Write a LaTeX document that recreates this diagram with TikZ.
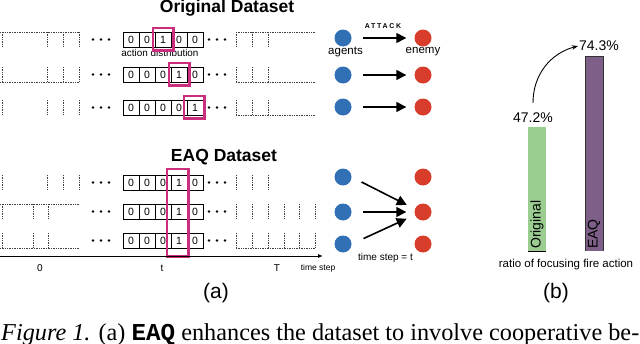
\documentclass[tikz,border=0pt]{standalone}
\usepackage{fontspec}
\setmainfont{Liberation Sans}
\newfontfamily\didafont{Liberation Serif}
\newfontfamily\codfont{Liberation Mono}
\usetikzlibrary{arrows.meta,positioning}

\definecolor{evidcol}{RGB}{205,45,125}
\definecolor{blu}{RGB}{50,112,182}
\definecolor{rosso}{RGB}{216,60,42}
\definecolor{verde}{RGB}{155,205,145}
\definecolor{viola}{RGB}{125,95,135}

\tikzset{
  cella/.style={draw, line width=0.8pt, minimum width=16pt, minimum height=15pt,
    inner sep=0pt, font=\fontsize{10.5}{12}\selectfont},
  evid/.style={draw=evidcol, line width=2.2pt},
  tratt/.style={densely dotted, line width=0.7pt, black!75},
  agente/.style={circle, fill=blu, minimum size=17pt, inner sep=0pt},
  nemico/.style={circle, fill=rosso, minimum size=17pt, inner sep=0pt},
  attacco/.style={line width=1.6pt, -{Triangle[length=10pt,width=10pt]}},
  titolo/.style={font=\fontsize{17.5}{20}\selectfont\bfseries},
  etich/.style={font=\fontsize{10}{12}\selectfont, inner sep=1pt},
}

\begin{document}
\begin{tikzpicture}[x=1pt,y=-1pt]
        \useasboundingbox (0,0) rectangle (640,343);

        % Titoli
        \node[titolo] (tOrig) at (227,8) {Original Dataset};
        \node[titolo] (tEAQ) at (224,157) {EAQ Dataset};

        % Dataset originale
        \foreach \d [count=\i] in {0,0,1,0,0}
            \node[cella] (o1-\i) at (115+16*\i,39.5) {\d};
        \foreach \d [count=\i] in {0,0,0,1,0}
            \node[cella] (o2-\i) at (115+16*\i,74.5) {\d};
        \foreach \d [count=\i] in {0,0,0,0,1}
            \node[cella] (o3-\i) at (115+16*\i,107.5) {\d};
        \node[etich, font=\fontsize{9.9}{12}\selectfont] (azdist) at (160,53) {action distribution};

        % Dataset EAQ
        \foreach \r/\y in {1/182.5,2/211.5,3/240.5}
            \foreach \d [count=\i] in {0,0,0,1,0}
                \node[cella] (q\r-\i) at (115+16*\i,\y) {\d};

        % Evidenziazioni
        \draw[evid] ([shift={(-2pt,4pt)}]o1-3.north west) rectangle ([shift={(2pt,-3pt)}]o1-3.south east);
        \draw[evid] ([shift={(-2pt,4pt)}]o2-4.north west) rectangle ([shift={(2pt,-3pt)}]o2-4.south east);
        \draw[evid] ([shift={(-3pt,4pt)}]o3-5.north west) rectangle ([shift={(1pt,-3pt)}]o3-5.south east);
        \draw[evid] ([shift={(-4pt,6pt)}]q1-4.north west) rectangle ([shift={(1pt,-8pt)}]q3-4.south east);

        % Blocchi tratteggiati a sinistra
        \foreach \t/\b in {32/47,67/82,100/115,175/190}
            \foreach \x in {2,47,63,79} \draw[tratt] (\x,\t) -- (\x,\b);
        \foreach \t/\b in {204/219,233/248}
            \foreach \x in {2,33,48} \draw[tratt] (\x,\t) -- (\x,\b);
        \draw[tratt] (0,32) -- (79,32);
        \draw[tratt] (0,82) -- (79,82);
        \draw[tratt] (0,204) -- (79,204);
        \draw[tratt] (0,248) -- (79,248);

        % Blocchi tratteggiati a destra
        \foreach \t/\b in {32/47,67/82,100/115,175/190}
            \foreach \x in {236,252,268} \draw[tratt] (\x,\t) -- (\x,\b);
        \foreach \t/\b in {204/219,233/248}
            \foreach \x in {236,252,268,284,299,315} \draw[tratt] (\x,\t) -- (\x,\b);
        \draw[tratt] (236,32) -- (315,32);
        \draw[tratt] (236,82) -- (315,82);
        \draw[tratt] (236,115) -- (315,115);
        \draw[tratt] (236,248) -- (315,248);

        % Puntini
        \foreach \y in {39.5,74.5,107.5,182.5,211.5,240.5}
            \foreach \x in {93,101,109,209,217,225}
                \fill (\x,\y) circle (1.3pt);

        % Asse dei tempi
        \draw[line width=0.9pt, -{Latex[length=5pt,width=4pt]}] (0,256) -- (323,256);
        \node[etich] (l0) at (40,268) {0};
        \node[etich] (lt) at (162,268) {t};
        \node[etich] (lT) at (277,268) {T};
        \node[etich, font=\fontsize{8.5}{10}\selectfont] (lts) at (318,268) {time step};

        % Agenti e nemici
        \foreach \i/\y in {1/38,2/75,3/107} {
            \node[agente] (a\i) at (343,\y) {};
            \node[nemico] (e\i) at (423,\y) {};
        }
        \foreach \i/\y in {1/177,2/212,3/244} {
            \node[agente] (b\i) at (343,\y) {};
            \node[nemico] (f\i) at (423,\y) {};
        }
        \node[etich, font=\fontsize{11.5}{13}\selectfont] (ag) at (345.5,52) {agents};
        \node[etich, font=\fontsize{11.5}{13}\selectfont] (en) at (423,52) {enemy};
        \node[etich, font=\fontsize{7}{8}\selectfont\bfseries\addfontfeatures{LetterSpace=25}] (att) at (383,26) {ATTACK};
        \node[etich] (tst) at (385.5,258) {time step = t};

        % Attacchi
        \foreach \i in {1,2,3}
            \draw[attacco, shorten <=11pt, shorten >=8pt] (a\i.east) -- (e\i.west);
        \draw[attacco, shorten <=11pt, shorten >=9pt] (b1.east) -- (f2.160);
        \draw[attacco, shorten <=11pt, shorten >=8pt] (b2.east) -- (f2.west);
        \draw[attacco, shorten <=13pt, shorten >=9pt] (b3.east) -- (f2.200);

        % Barre
        \fill[verde] (528,127) rectangle (546,251);
        \fill[viola] (585,56) rectangle (603,251);
        \draw[line width=0.8pt] (528,251) -- (546,251);
        \draw[line width=0.6pt, black!80] (585,251) -- (585,56) -- (603,56) -- (603,251);
        \node[rotate=90, anchor=west, inner sep=1pt, font=\fontsize{14}{16}\selectfont] (bOrig) at (537,250) {Original};
        \node[rotate=90, anchor=west, inner sep=1pt, font=\fontsize{14}{16}\selectfont] (bEAQ) at (594,250) {EAQ};
        \node[etich, font=\fontsize{14}{16}\selectfont] (p1) at (533,118) {47.2\%};
        \node[etich, font=\fontsize{14}{16}\selectfont] (p2) at (599,46) {74.3\%};
        \draw[line width=0.9pt, -{Stealth[length=6pt]}] ([yshift=9pt]p1.north) to[out=90,in=195] (p2.west);
        \node[etich, font=\fontsize{11.5}{13}\selectfont] (ratio) at (566,265) {ratio of focusing fire action};

        % Sottopannelli
        \node[font=\fontsize{21}{24}\selectfont] (pa) at (216,293) {(a)};
        \node[font=\fontsize{21}{24}\selectfont] (pb) at (556,293) {(b)};

        % Didascalia
        \node[anchor=base west, inner sep=0pt] (cap) at (1,340)
            {\resizebox{638pt}{!}{\didafont\textit{Figure 1.} (a) {\codfont\bfseries EAQ} enhances the dataset to involve cooperative be-}};
\end{tikzpicture}
\end{document}
